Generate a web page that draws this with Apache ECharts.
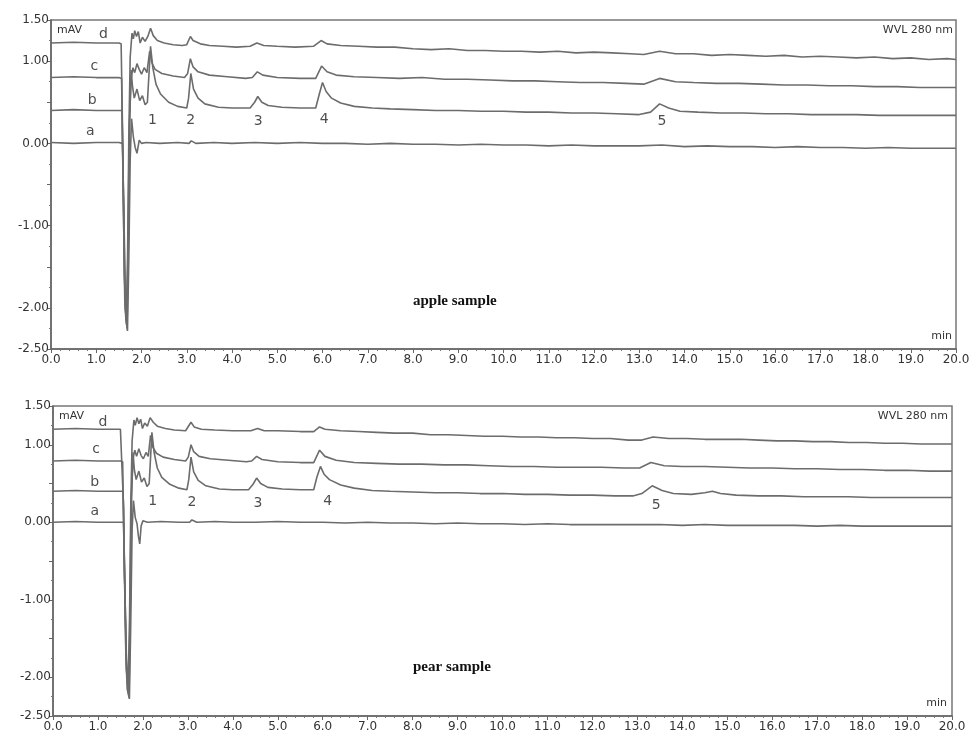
<!DOCTYPE html>
<html>
<head>
<meta charset="utf-8">
<title>HPLC chromatograms, WVL 280 nm</title>
<script src="https://cdn.jsdelivr.net/npm/echarts@6/dist/echarts.min.js"></script>
<style>
  html, body { margin: 0; padding: 0; background: #fff; }
  #chart { width: 979px; height: 738px; }
</style>
</head>
<body>
<div id="chart"></div>
<script>
// Retention time (min) vs absorbance (mAV); four offset traces a-d per sample.
const xTickLabels = ['0.0','1.0','2.0','3.0','4.0','5.0','6.0','7.0','8.0','9.0','10.0',
  '11.0','12.0','13.0','14.0','15.0','16.0','17.0','18.0','19.0','20.0'];
const yTickLabels = ['1.50','1.00','0.00','-1.00','-2.00','-2.50'];

// ---- apple sample ----
const appleD = [[0,1.22],[0.5,1.23],[1.0,1.22],[1.5,1.22],[1.55,1.21],[1.58,0.2],[1.62,-1.6],[1.66,-2.15],[1.69,-1.5],[1.72,0.1],[1.75,1.05],[1.79,1.34],[1.82,1.27],[1.85,1.37],[1.89,1.30],[1.93,1.36],[1.97,1.22],[2.02,1.29],[2.08,1.24],[2.14,1.30],[2.2,1.40],[2.26,1.31],[2.35,1.25],[2.5,1.22],[2.7,1.20],[2.9,1.19],[3.0,1.20],[3.08,1.30],[3.14,1.25],[3.3,1.21],[3.5,1.19],[3.8,1.18],[4.1,1.17],[4.4,1.18],[4.55,1.22],[4.7,1.19],[5.0,1.18],[5.4,1.17],[5.8,1.18],[5.97,1.25],[6.1,1.21],[6.4,1.19],[6.8,1.18],[7.2,1.17],[7.6,1.17],[8.0,1.15],[8.4,1.14],[8.8,1.15],[9.2,1.13],[9.6,1.13],[10.0,1.12],[10.4,1.12],[10.8,1.11],[11.2,1.12],[11.6,1.10],[12.0,1.11],[12.4,1.10],[12.8,1.09],[13.1,1.08],[13.45,1.12],[13.8,1.09],[14.2,1.09],[14.6,1.07],[15.0,1.08],[15.4,1.07],[15.8,1.06],[16.2,1.07],[16.6,1.05],[17.0,1.06],[17.4,1.05],[17.8,1.04],[18.2,1.05],[18.6,1.03],[19.0,1.04],[19.4,1.02],[19.8,1.03],[20,1.02]];
const appleC = [[0,0.80],[0.5,0.81],[1.0,0.80],[1.5,0.80],[1.56,0.79],[1.59,-0.4],[1.63,-1.9],[1.67,-2.2],[1.70,-1.3],[1.73,0.2],[1.77,0.78],[1.81,0.92],[1.85,0.86],[1.9,0.97],[1.95,0.90],[2.0,0.84],[2.06,0.92],[2.12,0.86],[2.18,1.12],[2.23,0.98],[2.3,0.90],[2.45,0.85],[2.7,0.82],[2.95,0.80],[3.02,0.85],[3.08,1.03],[3.14,0.93],[3.25,0.87],[3.5,0.83],[3.9,0.81],[4.3,0.79],[4.45,0.80],[4.56,0.87],[4.68,0.83],[5.0,0.80],[5.5,0.79],[5.85,0.79],[5.98,0.94],[6.1,0.87],[6.3,0.83],[6.7,0.81],[7.2,0.80],[7.7,0.79],[8.2,0.80],[8.7,0.78],[9.2,0.78],[9.7,0.77],[10.2,0.76],[10.7,0.76],[11.2,0.75],[11.7,0.74],[12.2,0.74],[12.7,0.73],[13.1,0.72],[13.45,0.79],[13.8,0.75],[14.2,0.74],[14.7,0.73],[15.2,0.73],[15.7,0.72],[16.2,0.71],[16.7,0.71],[17.2,0.70],[17.7,0.70],[18.2,0.69],[18.7,0.69],[19.2,0.68],[19.7,0.68],[20,0.68]];
const appleB = [[0,0.40],[0.5,0.41],[1.0,0.40],[1.5,0.40],[1.57,0.40],[1.60,-0.6],[1.64,-2.0],[1.68,-2.25],[1.71,-1.2],[1.74,0.3],[1.77,0.89],[1.80,0.70],[1.84,0.55],[1.9,0.66],[1.96,0.52],[2.02,0.58],[2.08,0.47],[2.13,0.50],[2.2,1.18],[2.25,0.92],[2.32,0.72],[2.42,0.60],[2.6,0.50],[2.8,0.45],[3.0,0.43],[3.04,0.55],[3.09,0.85],[3.15,0.66],[3.25,0.55],[3.4,0.48],[3.7,0.44],[4.0,0.43],[4.4,0.43],[4.5,0.50],[4.57,0.57],[4.66,0.50],[4.8,0.46],[5.1,0.44],[5.5,0.43],[5.85,0.43],[5.93,0.60],[6.0,0.74],[6.08,0.63],[6.2,0.55],[6.4,0.49],[6.7,0.45],[7.1,0.43],[7.5,0.42],[8.0,0.41],[8.5,0.40],[9.0,0.40],[9.5,0.39],[10.0,0.39],[10.5,0.38],[11.0,0.38],[11.5,0.37],[12.0,0.37],[12.5,0.36],[13.0,0.35],[13.25,0.38],[13.45,0.48],[13.65,0.43],[13.9,0.39],[14.3,0.38],[14.8,0.37],[15.3,0.37],[15.8,0.36],[16.3,0.36],[16.8,0.35],[17.3,0.35],[17.8,0.35],[18.3,0.34],[18.8,0.34],[19.3,0.34],[19.8,0.34],[20,0.34]];
const appleA = [[0,0.01],[0.5,0.00],[1.0,0.01],[1.5,0.01],[1.58,0.0],[1.61,-0.8],[1.65,-2.1],[1.69,-2.28],[1.72,-1.4],[1.75,-0.2],[1.78,0.30],[1.82,0.08],[1.86,-0.05],[1.9,-0.12],[1.95,0.04],[2.0,0.0],[2.1,0.01],[2.4,0.00],[2.8,0.01],[3.05,0.0],[3.1,0.03],[3.2,0.0],[3.6,0.01],[4.0,0.00],[4.5,0.01],[5.0,0.00],[5.5,0.01],[6.0,0.00],[6.5,0.00],[7.0,-0.01],[7.5,0.00],[8.0,-0.01],[8.5,-0.01],[9.0,-0.02],[9.5,-0.01],[10.0,-0.02],[10.5,-0.02],[11.0,-0.03],[11.5,-0.02],[12.0,-0.03],[12.5,-0.03],[13.0,-0.03],[13.5,-0.02],[14.0,-0.04],[14.5,-0.03],[15.0,-0.04],[15.5,-0.04],[16.0,-0.05],[16.5,-0.04],[17.0,-0.05],[17.5,-0.05],[18.0,-0.06],[18.5,-0.05],[19.0,-0.06],[19.5,-0.06],[20,-0.06]];

// ---- pear sample ----
const pearD = [[0,1.20],[0.5,1.21],[1.0,1.20],[1.5,1.20],[1.54,1.19],[1.57,0.2],[1.62,-1.7],[1.67,-2.1],[1.70,-1.4],[1.73,0.2],[1.76,1.05],[1.80,1.32],[1.83,1.25],[1.87,1.35],[1.91,1.27],[1.95,1.33],[1.99,1.21],[2.04,1.28],[2.1,1.24],[2.16,1.35],[2.23,1.29],[2.32,1.24],[2.5,1.21],[2.7,1.19],[2.95,1.18],[3.07,1.29],[3.14,1.23],[3.3,1.20],[3.6,1.19],[4.0,1.18],[4.4,1.18],[4.55,1.21],[4.7,1.18],[5.0,1.18],[5.5,1.17],[5.8,1.17],[5.93,1.23],[6.05,1.20],[6.4,1.18],[6.8,1.17],[7.2,1.16],[7.6,1.15],[8.0,1.15],[8.4,1.13],[8.8,1.13],[9.2,1.12],[9.6,1.11],[10.0,1.11],[10.4,1.10],[10.8,1.10],[11.2,1.09],[11.6,1.09],[12.0,1.08],[12.4,1.08],[12.8,1.06],[13.1,1.06],[13.35,1.10],[13.7,1.08],[14.1,1.08],[14.5,1.07],[14.9,1.07],[15.3,1.07],[15.7,1.06],[16.1,1.05],[16.5,1.05],[16.9,1.04],[17.3,1.04],[17.7,1.03],[18.1,1.03],[18.5,1.02],[18.9,1.02],[19.3,1.01],[19.7,1.01],[20,1.01]];
const pearC = [[0,0.79],[0.5,0.80],[1.0,0.79],[1.5,0.79],[1.55,0.78],[1.58,-0.4],[1.63,-1.9],[1.68,-2.2],[1.71,-1.2],[1.74,0.3],[1.78,0.82],[1.82,0.93],[1.86,0.85],[1.91,0.95],[1.96,0.86],[2.01,0.82],[2.07,0.90],[2.12,0.85],[2.17,1.12],[2.22,0.97],[2.3,0.89],[2.45,0.84],[2.7,0.81],[2.95,0.79],[3.01,0.84],[3.07,1.00],[3.13,0.91],[3.25,0.85],[3.5,0.82],[3.9,0.80],[4.3,0.78],[4.42,0.79],[4.53,0.85],[4.65,0.81],[5.0,0.78],[5.5,0.77],[5.8,0.77],[5.93,0.93],[6.05,0.85],[6.3,0.80],[6.7,0.77],[7.2,0.76],[7.7,0.75],[8.2,0.75],[8.7,0.74],[9.2,0.74],[9.7,0.73],[10.2,0.72],[10.7,0.72],[11.2,0.71],[11.7,0.71],[12.2,0.71],[12.7,0.70],[13.05,0.70],[13.3,0.77],[13.6,0.73],[14.0,0.72],[14.5,0.72],[15.0,0.71],[15.5,0.70],[16.0,0.70],[16.5,0.69],[17.0,0.69],[17.5,0.68],[18.0,0.68],[18.5,0.67],[19.0,0.67],[19.5,0.66],[20,0.66]];
const pearB = [[0,0.40],[0.5,0.41],[1.0,0.40],[1.5,0.40],[1.56,0.40],[1.59,-0.6],[1.64,-2.0],[1.69,-2.26],[1.72,-1.1],[1.75,0.35],[1.78,0.90],[1.81,0.68],[1.85,0.55],[1.91,0.66],[1.97,0.52],[2.03,0.57],[2.09,0.46],[2.14,0.50],[2.2,1.16],[2.25,0.90],[2.32,0.70],[2.42,0.58],[2.6,0.49],[2.8,0.44],[2.98,0.42],[3.02,0.55],[3.07,0.84],[3.13,0.65],[3.23,0.54],[3.4,0.47],[3.7,0.43],[4.0,0.42],[4.35,0.42],[4.45,0.49],[4.53,0.57],[4.62,0.50],[4.78,0.45],[5.1,0.43],[5.5,0.42],[5.8,0.42],[5.87,0.58],[5.95,0.72],[6.03,0.62],[6.15,0.55],[6.4,0.48],[6.7,0.44],[7.1,0.41],[7.5,0.40],[8.0,0.39],[8.5,0.38],[9.0,0.38],[9.5,0.37],[10.0,0.37],[10.5,0.36],[11.0,0.36],[11.5,0.35],[12.0,0.35],[12.5,0.34],[12.9,0.34],[13.1,0.37],[13.33,0.47],[13.55,0.41],[13.8,0.37],[14.2,0.36],[14.5,0.38],[14.67,0.40],[14.85,0.37],[15.2,0.35],[15.7,0.34],[16.2,0.34],[16.7,0.33],[17.2,0.33],[17.7,0.33],[18.2,0.32],[18.7,0.32],[19.2,0.32],[19.7,0.32],[20,0.32]];
const pearA = [[0,0.00],[0.5,0.01],[1.0,0.00],[1.5,0.00],[1.57,0.0],[1.60,-0.9],[1.65,-2.15],[1.70,-2.28],[1.73,-1.3],[1.76,-0.1],[1.79,0.28],[1.83,0.06],[1.87,-0.02],[1.9,-0.18],[1.93,-0.28],[1.96,-0.05],[2.0,0.02],[2.1,0.0],[2.4,0.01],[2.8,0.0],[3.04,0.0],[3.09,0.03],[3.2,0.0],[3.6,0.01],[4.0,0.00],[4.5,0.00],[5.0,0.01],[5.5,0.00],[6.0,0.00],[6.5,-0.01],[7.0,0.00],[7.5,-0.01],[8.0,-0.01],[8.5,-0.02],[9.0,-0.01],[9.5,-0.02],[10.0,-0.02],[10.5,-0.03],[11.0,-0.02],[11.5,-0.03],[12.0,-0.03],[12.5,-0.03],[13.0,-0.03],[13.5,-0.03],[14.0,-0.04],[14.5,-0.03],[15.0,-0.04],[15.5,-0.04],[16.0,-0.04],[16.5,-0.04],[17.0,-0.05],[17.5,-0.04],[18.0,-0.05],[18.5,-0.05],[19.0,-0.05],[19.5,-0.05],[20,-0.05]];

// Trace letters and numbered peaks, placed at [time, mAV]
const traceNames = ['a', 'b', 'c', 'd'];
const appleNamePos = [[0.87,0.15],[0.91,0.52],[0.96,0.94],[1.16,1.33]];
const pearNamePos  = [[0.93,0.14],[0.93,0.52],[0.96,0.94],[1.11,1.29]];
const peakNumbers = ['1', '2', '3', '4', '5'];
const applePeakPos = [[2.24,0.28],[3.09,0.28],[4.58,0.27],[6.04,0.29],[13.5,0.27]];
const pearPeakPos  = [[2.22,0.27],[3.09,0.26],[4.56,0.25],[6.11,0.27],[13.42,0.22]];

const LINE = '#6c6c6c';
const TXT = '#333';
const FONT = 'DejaVu Sans';

function xAxisFor(gridIndex) {
  return {
    type: 'value', gridIndex, min: 0, max: 20, interval: 1,
    axisLine: { show: true, onZero: false, lineStyle: { color: '#666', width: 1.5 } },
    axisTick: { show: true, length: 4, lineStyle: { color: '#666' } },
    minorTick: { show: true, splitNumber: 5, length: 2, lineStyle: { color: '#777' } },
    splitLine: { show: false },
    axisLabel: {
      color: TXT, fontFamily: FONT, fontSize: 12, margin: 5,
      formatter: v => xTickLabels[Math.round(v)] || ''
    }
  };
}
function yAxisFor(gridIndex) {
  return {
    type: 'value', gridIndex, min: -2.5, max: 1.5, interval: 0.5,
    axisLine: { show: true, onZero: false, lineStyle: { color: '#666', width: 1.5 } },
    axisTick: { show: true, length: 4, lineStyle: { color: '#666' } },
    minorTick: { show: true, splitNumber: 2, length: 2, lineStyle: { color: '#777' } },
    splitLine: { show: false },
    axisLabel: {
      color: TXT, fontFamily: FONT, fontSize: 12, margin: 2,
      formatter: v => {
        const s = v.toFixed(2);
        return yTickLabels.includes(s) ? s : '';
      }
    }
  };
}
function trace(name, data, idx) {
  return {
    name, type: 'line', data, xAxisIndex: idx, yAxisIndex: idx,
    showSymbol: false, symbol: 'none', animation: false, silent: true,
    lineStyle: { color: LINE, width: 1.6 }
  };
}
function textMarks(names, pos, idx, size) {
  return {
    type: 'scatter', xAxisIndex: idx, yAxisIndex: idx, symbolSize: 0,
    animation: false, silent: true,
    data: names.map((n, i) => ({ name: n, value: pos[i] })),
    label: {
      show: true, position: 'inside', formatter: p => p.name,
      color: '#222', fontFamily: FONT, fontSize: size
    }
  };
}

const chart = echarts.init(document.getElementById('chart'), null, { renderer: 'canvas' });
chart.setOption({
  backgroundColor: '#fff',
  animation: false,
  grid: [
    { left: 51, top: 20, width: 905, height: 329, show: true, borderColor: '#777', borderWidth: 1.5, backgroundColor: 'transparent' },
    { left: 53, top: 406, width: 899, height: 310, show: true, borderColor: '#777', borderWidth: 1.5, backgroundColor: 'transparent' }
  ],
  xAxis: [xAxisFor(0), xAxisFor(1)],
  yAxis: [yAxisFor(0), yAxisFor(1)],
  series: [
    trace('apple a', appleA, 0), trace('apple b', appleB, 0),
    trace('apple c', appleC, 0), trace('apple d', appleD, 0),
    trace('pear a', pearA, 1), trace('pear b', pearB, 1),
    trace('pear c', pearC, 1), trace('pear d', pearD, 1),
    textMarks(traceNames, appleNamePos, 0, 14),
    textMarks(traceNames, pearNamePos, 1, 14),
    textMarks(peakNumbers, applePeakPos, 0, 14),
    textMarks(peakNumbers, pearPeakPos, 1, 14)
  ],
  graphic: [
    { type: 'text', left: 57, top: 25, style: { text: 'mAV', fill: TXT, font: '11px "DejaVu Sans"' } },
    { type: 'text', right: 26, top: 25, style: { text: 'WVL 280 nm', fill: TXT, font: '11px "DejaVu Sans"' } },
    { type: 'text', right: 27, top: 331, style: { text: 'min', fill: TXT, font: '11px "DejaVu Sans"' } },
    { type: 'text', left: 413, top: 294, style: { text: 'apple sample', fill: '#111', font: 'bold 15px "Liberation Serif"' } },
    { type: 'text', left: 59, top: 411, style: { text: 'mAV', fill: TXT, font: '11px "DejaVu Sans"' } },
    { type: 'text', right: 31, top: 411, style: { text: 'WVL 280 nm', fill: TXT, font: '11px "DejaVu Sans"' } },
    { type: 'text', right: 32, top: 698, style: { text: 'min', fill: TXT, font: '11px "DejaVu Sans"' } },
    { type: 'text', left: 413, top: 660, style: { text: 'pear sample', fill: '#111', font: 'bold 15px "Liberation Serif"' } }
  ]
});
</script>
</body>
</html>
